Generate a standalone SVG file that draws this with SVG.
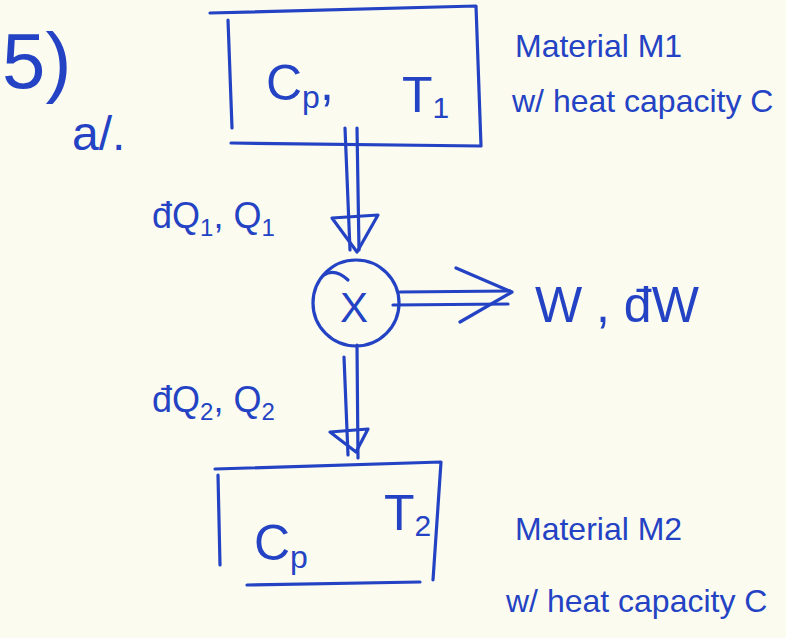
<svg xmlns="http://www.w3.org/2000/svg" width="786" height="638" viewBox="0 0 786 638">
<style>
.ink{fill:none;stroke:#2443c4;stroke-width:3.2;stroke-linecap:round;stroke-linejoin:round}
text{fill:#2443c4;font-family:"Liberation Sans","DejaVu Sans",sans-serif}
.big{font-size:50px}
.lbl{font-size:36px}
.note{font-size:32px}
</style>
<rect width="786" height="638" fill="#fbfcef"/>
<g id="heading">
<text x="2" y="88" font-size="78px">5)</text>
<text x="72" y="150" font-size="48px">a/.</text>
</g>
<g id="material1">
<path class="ink" d="M210,13 L476,6 L481,146 L231,143 M228,20 L232,128"/>
<text class="big" x="266" y="100">C<tspan font-size="32px" dy="8">p</tspan><tspan dy="-8">,</tspan></text>
<text class="big" x="402" y="112">T<tspan font-size="30px" dy="6">1</tspan></text>
<text class="note" x="515" y="57">Material M1</text>
<text class="note" x="512" y="112">w/ heat capacity C</text>
</g>
<g id="engine">
<circle class="ink" cx="356" cy="303" r="43"/>
<path class="ink" d="M324,275 Q335,268 348,280"/>
<text x="340" y="322" font-size="42px">X</text>
</g>
<g id="material2">
<path class="ink" d="M215,469 L441,462 L433,580 M247,585 L420,582 M218,475 L220,565"/>
<text class="big" x="254" y="560">C<tspan font-size="32px" dy="8">p</tspan></text>
<text class="big" x="384" y="530">T<tspan font-size="30px" dy="6">2</tspan></text>
<text class="note" x="515" y="540">Material M2</text>
<text class="note" x="506" y="612">w/ heat capacity C</text>
</g>
<g id="connectors">
<path class="ink" d="M345,128 L350,250 M357,128 L359,250"/>
<path class="ink" d="M332,218 L378,215 L357,252 Z"/>
<path class="ink" d="M344,357 L348,455 M357,345 L358,458"/>
<path class="ink" d="M330,432 L368,429 L356,452 Z"/>
<path class="ink" d="M400,292 L510,291 M393,305 L508,304"/>
<path class="ink" d="M456,268 L512,292 L460,322"/>
</g>
<g id="labels">
<text class="lbl" x="152" y="228">đQ<tspan font-size="24px" dy="8">1</tspan><tspan dy="-8">, Q</tspan><tspan font-size="24px" dy="8">1</tspan></text>
<text class="lbl" x="152" y="412">đQ<tspan font-size="24px" dy="8">2</tspan><tspan dy="-8">, Q</tspan><tspan font-size="24px" dy="8">2</tspan></text>
<text font-size="50px" x="535" y="322">W , đW</text>
</g>
</svg>
